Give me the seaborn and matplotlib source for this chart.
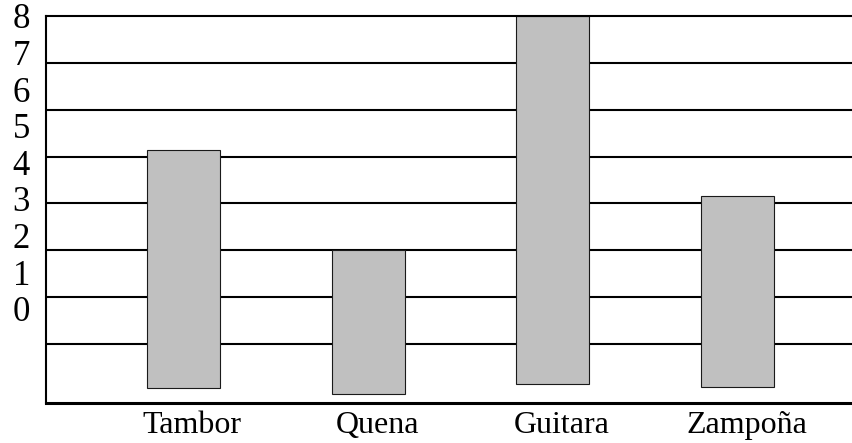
import numpy as np
import pandas as pd
import matplotlib
matplotlib.use("Agg")
import matplotlib.pyplot as plt
from matplotlib.ticker import FixedLocator
from matplotlib.transforms import ScaledTranslation
import seaborn as sns

# Instrumentos y extremos de cada barra
instrumentos = ["Tambor", "Quena", "Guitara", "Zampoña"]
cima = [4.34, 1.61, 8.0, 3.08]
base = [-2.16, -2.33, -2.06, -2.14]
marcas_y = [0, 1, 2, 3, 4, 5, 6, 7, 8]

plt.rcParams["font.family"] = ["Liberation Serif", "DejaVu Serif"]

df = pd.DataFrame({
    "instrumento": instrumentos,
    "altura": np.array(cima) - np.array(base),
})

fig = plt.figure(figsize=(8.53, 4.43), dpi=100)
ax = fig.add_axes([0.0539, 0.0903, 0.9461, 0.8736])

sns.barplot(
    data=df, x="instrumento", y="altura", bottom=base,
    color="#c0c0c0", saturation=1, edgecolor="#1a1a1a", linewidth=0.8,
    width=0.395, errorbar=None, ax=ax,
)

ax.set_xlim(-0.743, 3.624)
ax.set_ylim(-2.574, 8.0)

# Horizontal rules, evenly spaced below the top border
paso = 1.2803
ax.yaxis.set_minor_locator(FixedLocator([8 - paso * k for k in range(1, 8)]))
ax.set_yticks(marcas_y)
ax.set_yticklabels([str(v) for v in marcas_y])
ax.set_axisbelow(True)
ax.grid(False)
ax.grid(which="minor", axis="y", color="black", linewidth=1.5)

ax.tick_params(axis="y", which="both", length=0, pad=11.5, labelsize=25)
ax.tick_params(axis="x", length=0, pad=6, labelsize=23)
desplazamiento = ScaledTranslation(0.09, 0, fig.dpi_scale_trans)
for etiqueta in ax.get_xticklabels():
    etiqueta.set_transform(etiqueta.get_transform() + desplazamiento)

ax.set_xlabel("")
ax.set_ylabel("")

ax.spines["right"].set_visible(False)
ax.spines["top"].set_linewidth(1.5)
ax.spines["left"].set_linewidth(1.5)
ax.spines["bottom"].set_linewidth(2.2)
for lado in ("top", "left", "bottom"):
    ax.spines[lado].set_color("black")

fig.savefig("out.png", dpi=100)
